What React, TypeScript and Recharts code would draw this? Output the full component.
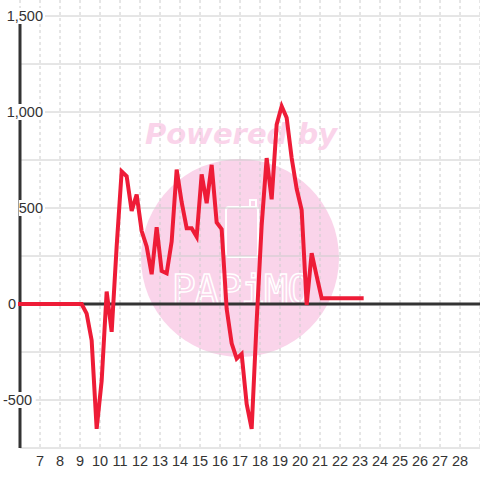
import React from "react";
import { LineChart, Line, XAxis, YAxis, CartesianGrid, ReferenceLine } from "recharts";

// Time of day (hours) and value of the series
const hours = [
  6, 9.083, 9.333, 9.583, 9.833, 10.083, 10.333, 10.583, 10.833, 11.083, 11.333, 11.583, 11.833,
  12.083, 12.333, 12.583, 12.833, 13.083, 13.333, 13.583, 13.833, 14.083, 14.333, 14.583, 14.833,
  15.083, 15.333, 15.583, 15.833, 16.083, 16.333, 16.583, 16.833, 17.083, 17.333, 17.583, 17.833,
  18.083, 18.333, 18.583, 18.833, 19.083, 19.333, 19.583, 19.833, 20.083, 20.333, 20.583, 20.833,
  21.083, 21.333, 21.583, 21.833, 22.083, 22.333, 22.583, 22.833, 23.083,
];
const values = [
  0, 0, -50, -190, -650, -400, 65, -145, 300, 690, 665, 485, 570,
  380, 300, 155, 400, 172, 160, 325, 700, 530, 395, 395, 350,
  675, 525, 725, 425, 390, -25, -205, -285, -260, -520, -650, -90,
  410, 760, 545, 935, 1030, 970, 760, 600, 490, -5, 265, 145,
  30, 30, 30, 30, 30, 30, 30, 30, 30,
];
const xTicks = [7, 8, 9, 10, 11, 12, 13, 14, 15, 16, 17, 18, 19, 20, 21, 22, 23, 24, 25, 26, 27, 28];
const yGrid = [-750, -500, -250, 0, 250, 500, 750, 1000, 1250, 1500];
const yLabels = [-500, 0, 500, 1000, 1500];

const data = hours.map((h, i) => ({ h, v: values[i] }));

const FONT = "'Liberation Sans', Arial, sans-serif";
const FS = 14.5;

const fmt = (v: number) => (v < 0 ? "-" : "") + Math.abs(v).toLocaleString("en-US");

const YTick = (props: any) => {
  const { y, payload } = props;
  const v = payload.value as number;
  if (!yLabels.includes(v)) return null;
  const label = fmt(v);
  let anchor: "start" | "end" = "end";
  let tx = 43;
  if (v === 0) {
    anchor = "start";
    tx = 8;
  } else if (v < 0) {
    anchor = "start";
    tx = 3;
  }
  const w = label.length * FS * 0.53;
  const rx = anchor === "end" ? tx - w - 1 : tx - 1;
  return (
    <g>
      <rect x={rx} y={y - 8} width={w + 3} height={16} fill="#fff" />
      <text x={tx} y={y} dy="0.35em" textAnchor={anchor} fontSize={FS} fontFamily={FONT} fill="#333">
        {label}
      </text>
    </g>
  );
};

const XTick = (props: any) => {
  const { x, payload } = props;
  return (
    <text x={x} y={461} dy="0.35em" textAnchor="middle" fontSize={FS} fontFamily={FONT} fill="#333">
      {payload.value}
    </text>
  );
};

const VGrid = (props: any) => {
  const { x1, x2, y2 } = props;
  return <line x1={x1} x2={x2} y1={0} y2={y2} stroke="#ccc" strokeWidth={1} strokeDasharray="3 3" />;
};

const Watermark = () => (
  <svg width={480} height={480} style={{ position: "absolute", left: 0, top: 0 }}>
    <rect x={0} y={0} width={480} height={480} fill="#fff" />
    <circle cx={240} cy={258} r={99} fill="#fad4ea" />
    <text
      x={241}
      y={144}
      textAnchor="middle"
      fontSize={29}
      fontWeight="bold"
      fontStyle="italic"
      fontFamily="'DejaVu Sans', sans-serif"
      fill="#fad4ea"
    >
      Powered by
    </text>
    <rect x={226} y={207} width={32} height={50} rx={3} fill="none" stroke="#fff" strokeWidth={2} />
    <path d="M250 207 L250 200 L256 200 L256 207" fill="none" stroke="#fff" strokeWidth={2} />
    <text
      x={241}
      y={304}
      textAnchor="middle"
      fontSize={40}
      fontFamily="'DejaVu Sans Mono', monospace"
      fill="none"
      stroke="#fff"
      strokeWidth={1.5}
      letterSpacing={-1}
    >
      PAPiMO
    </text>
  </svg>
);

export default function App() {
  return (
    <div style={{ position: "absolute", left: 0, top: 0, width: 480, height: 480 }}>
      <Watermark />
      <div style={{ position: "absolute", left: 0, top: 0 }}>
        <LineChart width={480} height={480} data={data} margin={{ top: 16, right: 0, bottom: 0, left: 0 }}>
          <CartesianGrid
            stroke="#ccc"
            horizontal={{ stroke: "#ccc", strokeDasharray: "" } as any}
            vertical={VGrid as any}
          />
          <XAxis
            dataKey="h"
            type="number"
            domain={[6, 29]}
            ticks={xTicks}
            axisLine={false}
            tickLine={false}
            height={32}
            tick={XTick}
            interval={0}
          />
          <YAxis
            type="number"
            domain={[-750, 1500]}
            ticks={yGrid}
            width={20}
            axisLine={false}
            tickLine={false}
            tick={YTick}
            interval={0}
          />
          <ReferenceLine
            segment={[
              { x: 6, y: -750 },
              { x: 6, y: 1500 },
            ]}
            stroke="#333"
            strokeWidth={3}
            ifOverflow="visible"
          />
          <ReferenceLine y={0} stroke="#333" strokeWidth={3} />
          <Line
            dataKey="v"
            type="linear"
            stroke="#ee1c37"
            strokeWidth={4}
            strokeLinecap="square"
            strokeLinejoin="miter"
            dot={false}
            activeDot={false}
            isAnimationActive={false}
          />
        </LineChart>
      </div>
    </div>
  );
}
